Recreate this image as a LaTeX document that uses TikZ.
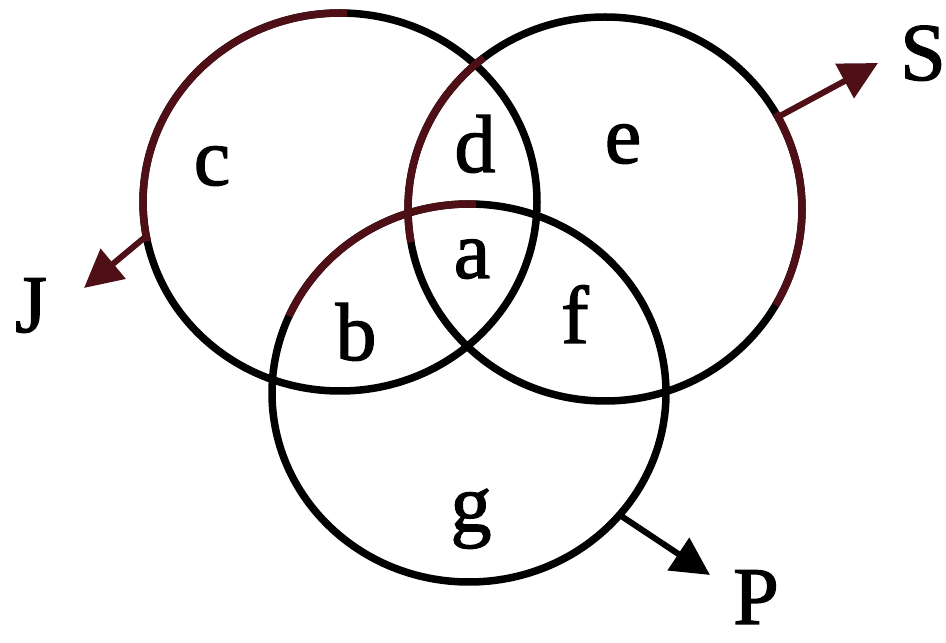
\documentclass[tikz,border=0pt]{standalone}
\usepackage{fontspec}
\setmainfont{Liberation Serif}
\newfontfamily\lblfont[FakeBold=1.6]{Liberation Serif}
\usetikzlibrary{arrows.meta,shapes.geometric}
\definecolor{maroon}{RGB}{78,16,22}
\begin{document}
\begin{tikzpicture}[x=1pt,y=1pt,
  ring/.style={ellipse, draw=black, line width=7.5pt, inner sep=0pt, outer sep=0pt},
  redarc/.style={line width=7.5pt, draw=maroon},
  pointer/.style={line width=6pt, -{Triangle[length=38pt,width=38pt]}},
  lbl/.style={font=\fontsize{82}{82}\lblfont, anchor=base, inner sep=0pt}]
\useasboundingbox (0,0) rectangle (946,643);
% circles
\node[ring, minimum width=394pt, minimum height=378pt] (J) at (340,441) {};
\node[ring, minimum width=394pt, minimum height=384pt] (S) at (605,434) {};
\node[ring, minimum width=394pt, minimum height=378pt] (P) at (469,250) {};
% maroon tinted arcs
\draw[redarc] (340,441) ++(88:197 and 189) arc[start angle=88, end angle=192, x radius=197, y radius=189];
\draw[redarc] (605,434) ++(-30:197 and 192) arc[start angle=-30, end angle=30, x radius=197, y radius=192];
\draw[redarc] (605,434) ++(128:197 and 192) arc[start angle=128, end angle=190, x radius=197, y radius=192];
\draw[redarc] (469,250) ++(88:197 and 189) arc[start angle=88, end angle=156, x radius=197, y radius=189];
% arrow ends
\coordinate (Jtip) at (84,355);
\coordinate (Stip) at (878,580);
\coordinate (Ptip) at (710,68);
\draw[pointer, maroon] (J.190) -- (Jtip);
\draw[pointer, maroon] (S.28) -- (Stip);
\draw[pointer, black] (P.-39) -- (Ptip);
% region labels
\node[lbl] (lc) at (212,458) {c};
\node[lbl] (ld) at (475,471) {d};
\node[lbl] (le) at (623,480) {e};
\node[lbl] (la) at (472,365) {a};
\node[lbl] (lb) at (356,283) {b};
\node[lbl] (lf) at (575,300) {f};
\node[lbl] (lg) at (471,112) {g};
% set names
\node[lbl] (nJ) at (31,311) {J};
\node[lbl] (nS) at (923,563) {S};
\node[lbl] (nP) at (756,19) {P};
\end{tikzpicture}
\end{document}
